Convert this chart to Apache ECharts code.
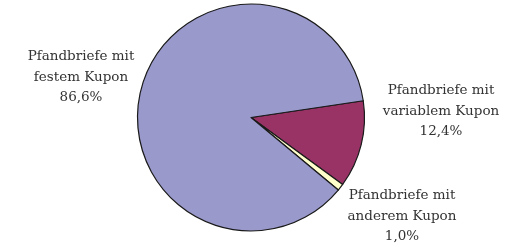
<!DOCTYPE html>
<html><head><meta charset="utf-8">
<script src="https://cdn.jsdelivr.net/npm/echarts@6/dist/echarts.min.js"></script>
<style>html,body{margin:0;padding:0;background:#fff}#c{width:518px;height:247px}</style>
</head><body><div id="c"></div>
<script>
const categories = ['Pfandbriefe mit\nvariablem Kupon', 'Pfandbriefe mit\nanderem Kupon', 'Pfandbriefe mit\nfestem Kupon'];
const shares = [12.4, 1.0, 86.6];
const colors = ['#993366', '#ffffcc', '#9999cc'];
const labelPos = [[441, 111], [402, 216], [81, 77]];

const chart = echarts.init(document.getElementById('c'));
chart.setOption({
  animation: false,
  series: [{
    type: 'pie',
    center: [251, 117.5],
    radius: [0, 113.5],
    startAngle: 8.5,
    clockwise: true,
    data: categories.map((n, i) => ({name: n, value: shares[i], itemStyle: {color: colors[i]}})),
    itemStyle: {borderColor: '#1a1a1a', borderWidth: 1.2},
    label: {
      show: true,
      formatter: p => p.name + '\n' + p.value.toFixed(1).replace('.', ',') + '%',
      fontFamily: 'DejaVu Serif',
      fontSize: 13.5,
      lineHeight: 20.5,
      color: '#333',
      align: 'center',
      overflow: 'none',
      width: 200
    },
    labelLine: {show: false},
    labelLayout: p => ({x: labelPos[p.dataIndex][0], y: labelPos[p.dataIndex][1], align: 'center', verticalAlign: 'middle', width: 200})
  }]
});
</script></body></html>
